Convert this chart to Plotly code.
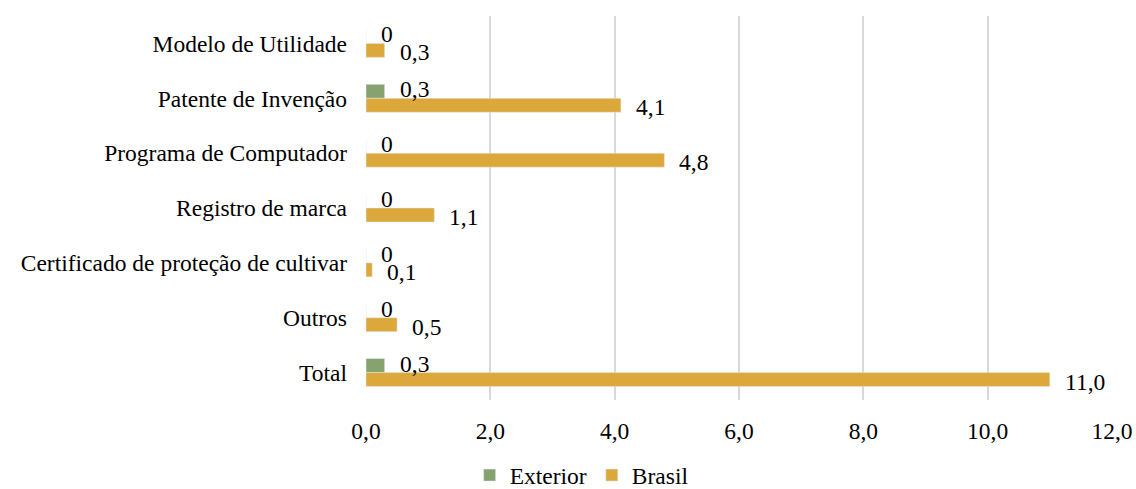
import plotly.graph_objects as go

categories = [
    "Modelo de Utilidade",
    "Patente de Invenção",
    "Programa de Computador",
    "Registro de marca",
    "Certificado de proteção de cultivar",
    "Outros",
    "Total",
]
exterior = [0, 0.3, 0, 0, 0, 0, 0.3]
brasil = [0.3, 4.1, 4.8, 1.1, 0.1, 0.5, 11.0]
x_ticks = [0, 2, 4, 6, 8, 10, 12]

GREEN = "#86A26F"
GOLD = "#DCA83B"
FONT = "Liberation Serif, Times New Roman, serif"
SIZE = 23.5


def fmt(v):
    return "0" if v == 0 else f"{v:.1f}".replace(".", ",")


fig = go.Figure()
fig.add_trace(go.Bar(name="Exterior", y=categories, x=exterior, orientation="h",
                     marker_color=GREEN))
fig.add_trace(go.Bar(name="Brasil", y=categories, x=brasil, orientation="h",
                     marker_color=GOLD))

annotations = []
for cat, v in zip(categories, exterior):
    annotations.append(dict(x=v, y=cat, text=fmt(v), showarrow=False,
                            xanchor="left", xshift=13, yshift=9,
                            font=dict(family=FONT, size=SIZE, color="#000")))
for cat, v in zip(categories, brasil):
    annotations.append(dict(x=v, y=cat, text=fmt(v), showarrow=False,
                            xanchor="left", xshift=13, yshift=-9,
                            font=dict(family=FONT, size=SIZE, color="#000")))

fig.update_layout(
    width=1136, height=489,
    margin=dict(l=366, r=24, t=16, b=89),
    barmode="group", bargap=0.49, bargroupgap=0,
    plot_bgcolor="white", paper_bgcolor="white",
    font=dict(family=FONT, size=SIZE, color="#000"),
    annotations=annotations,
    legend=dict(orientation="h", xref="container", x=0.512, xanchor="center",
                yref="container", y=0.028, yanchor="middle",
                font=dict(family=FONT, size=SIZE), traceorder="normal",
                itemwidth=30),
    xaxis=dict(range=[0, 12], tickvals=x_ticks,
               ticktext=[f"{t:.1f}".replace(".", ",") for t in x_ticks],
               showgrid=True, gridcolor="#D9D9D9", gridwidth=1.5,
               zeroline=False, showline=False, ticks="", ticklabelstandoff=14,
               automargin=False),
    yaxis=dict(autorange="reversed", showgrid=False, zeroline=False,
               showline=False, ticks="", ticklabelstandoff=18,
               automargin=False),
)

fig.write_html("out.html")
